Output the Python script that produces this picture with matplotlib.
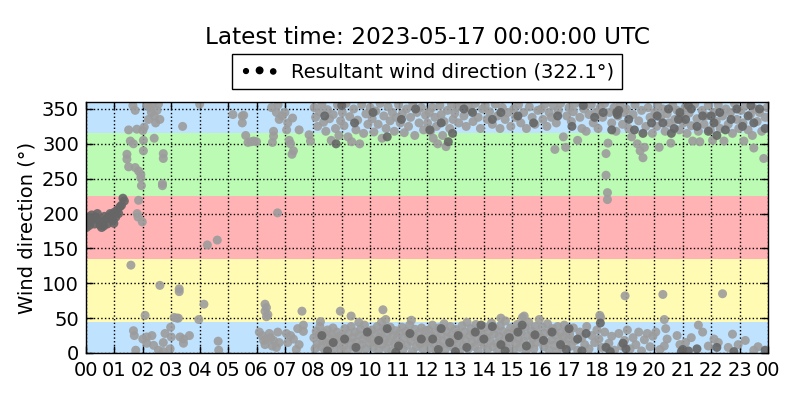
import numpy as np
import matplotlib
matplotlib.use('Agg')
from matplotlib import pyplot as plt
from matplotlib.legend_handler import HandlerPathCollection
from matplotlib.collections import PathCollection

title = 'Latest time: 2023-05-17 00:00:00 UTC'
legend_label = 'Resultant wind direction (322.1\u00b0)'
tick_hours = list(range(25))
tick_labels = ['%02d' % (h % 24) for h in tick_hours]

# direction sectors (deg) and their background colours
sectors = [(0, 45), (45, 135), (135, 225), (225, 315), (315, 360)]
sector_colors = ['#bfe3ff', '#fffbb3', '#ffb3b4', '#bbfbb3', '#bfe3ff']

# (hour, direction) pairs
night_dark = [
    (0.0, 190), (0.05, 185), (0.1, 195), (0.15, 188), (0.2, 198), (0.25, 192),
    (0.3, 185), (0.35, 195), (0.4, 200), (0.45, 190), (0.5, 183), (0.55, 180),
    (0.6, 188), (0.65, 196), (0.7, 192), (0.75, 185), (0.8, 195), (0.85, 200),
    (0.9, 198), (0.95, 190), (1.0, 202), (1.05, 195), (1.1, 205), (1.15, 200),
    (1.2, 210), (1.25, 212), (1.3, 222), (1.35, 218), (0.02, 180), (0.12, 183),
    (0.62, 182), (0.98, 186),
]
night_light = [
    (1.85, 219), (1.8, 200), (1.83, 195), (1.98, 188),
    (1.65, 355), (1.73, 348), (1.5, 320), (1.79, 321), (2.0, 319), (2.05, 324),
    (1.56, 304), (1.67, 300), (2.02, 305), (2.02, 290), (1.44, 285), (1.44, 278),
    (1.5, 267), (1.73, 266), (1.85, 261), (1.93, 256), (1.93, 251), (1.95, 240),
    (2.15, 355), (2.25, 352), (2.3, 345), (2.4, 340), (2.45, 330), (2.5, 348),
    (2.6, 335), (2.2, 335), (2.35, 357), (2.55, 357), (2.4, 308), (2.72, 286),
    (2.72, 279), (2.69, 243), (2.69, 240), (3.4, 325), (4.0, 357),
    (1.58, 126), (2.6, 97), (3.28, 92), (3.28, 88), (2.08, 54), (3.1, 51),
    (3.2, 50), (3.25, 50), (3.97, 48),
    (1.67, 32), (1.7, 25), (1.75, 4), (2.0, 20), (2.14, 23), (2.14, 14),
    (2.32, 25), (2.38, 11), (2.55, 4), (2.72, 2), (2.78, 28), (2.98, 37),
    (3.0, 23), (2.96, 6), (3.31, 23), (3.43, 20), (3.43, 14), (3.64, 25),
    (2.72, 15),
    (4.15, 70), (4.27, 155), (4.62, 162), (4.65, 17), (4.67, 4),
    (5.17, 342), (5.5, 340), (5.5, 330), (5.55, 341), (5.62, 312), (5.7, 302),
    (5.8, 303), (5.9, 304), (6.0, 303), (6.53, 352), (6.6, 318), (6.6, 311),
    (6.56, 302), (6.7, 345), (6.8, 335), (6.9, 340), (7.0, 345), (6.76, 356),
    (7.06, 320), (7.1, 330), (7.15, 305), (7.2, 300), (7.25, 285), (7.3, 290),
    (7.27, 337), (7.5, 320), (7.85, 313), (7.9, 304), (6.74, 201),
    (6.3, 70), (6.35, 65), (6.3, 60), (6.35, 52), (6.4, 55), (7.6, 60),
    (6.1, 30), (6.2, 25), (6.25, 18), (6.3, 12), (6.35, 20), (6.45, 28),
    (6.5, 22), (6.55, 10), (6.6, 18), (6.7, 8), (6.75, 30), (6.8, 15),
    (7.05, 28), (7.1, 15), (7.2, 25), (7.3, 20), (7.4, 5), (7.45, 35),
    (7.5, 12), (7.65, 40), (7.65, 31),
]
morning_light = [
    (8.02, 22), (8.06, 6), (8.1, 31), (8.14, 13), (8.19, 26), (8.23, 38),
    (8.28, 9), (8.33, 18), (8.37, 29), (8.41, 3), (8.46, 15), (8.5, 33),
    (8.55, 22), (8.6, 11), (8.64, 27), (8.69, 36), (8.73, 6), (8.78, 19),
    (8.83, 30), (8.87, 14), (8.92, 24), (8.97, 4), (9.02, 25), (9.06, 10),
    (9.11, 35), (9.15, 18), (9.2, 4), (9.24, 28), (9.29, 15), (9.33, 38),
    (9.38, 22), (9.43, 8), (9.47, 30), (9.52, 16), (9.57, 2), (9.61, 26),
    (9.66, 34), (9.7, 12), (9.75, 20), (9.8, 40), (9.84, 6), (9.89, 24),
    (9.94, 31), (9.98, 14), (10.02, 20), (10.07, 33), (10.11, 8), (10.16, 27),
    (10.2, 15), (10.25, 38), (10.3, 4), (10.34, 23), (10.39, 30), (10.43, 12),
    (10.48, 35), (10.53, 19), (10.57, 7), (10.62, 28), (10.66, 16), (10.71, 37),
    (10.76, 3), (10.8, 25), (10.85, 13), (10.89, 32), (10.94, 21), (10.98, 9),
    (11.03, 29), (11.07, 14), (11.12, 37), (11.16, 5), (11.21, 22), (11.26, 31),
    (11.3, 11), (11.35, 26), (11.39, 40), (11.44, 17), (11.49, 2), (11.53, 24),
    (11.58, 34), (11.62, 9), (11.67, 20), (11.72, 29), (11.76, 13), (11.81, 36),
    (11.85, 6), (11.9, 23), (11.95, 32), (11.99, 16),
    (8.25, 45), (9.6, 44), (10.55, 48), (11.45, 47),
    (8.95, 60), (9.33, 53), (10.45, 62), (10.4, 44),
    (8.03, 352), (8.08, 338), (8.15, 325), (8.22, 346), (8.3, 357), (8.36, 331),
    (8.44, 318), (8.5, 349), (8.57, 336), (8.63, 305), (8.7, 342), (8.78, 322),
    (8.85, 356), (8.9, 312), (8.96, 333), (9.02, 345), (9.08, 326), (9.15, 358),
    (9.22, 310), (9.28, 339), (9.35, 303), (9.42, 350), (9.5, 320), (9.56, 334),
    (9.63, 300), (9.7, 356), (9.77, 315), (9.85, 343), (9.92, 328), (10.0, 352),
    (10.07, 336), (10.13, 317), (10.2, 347), (10.28, 328), (10.35, 358),
    (10.42, 308), (10.48, 340), (10.56, 322), (10.63, 353), (10.7, 333),
    (10.78, 345), (10.85, 318), (10.92, 338), (11.0, 356), (11.06, 330),
    (11.13, 343), (11.2, 316), (11.28, 350), (11.35, 325), (11.42, 338),
    (11.5, 357), (11.57, 312), (11.65, 345), (11.72, 330), (11.8, 352),
    (11.88, 320), (11.95, 341),
]
morning_dark = [
    (8.3, 25), (8.7, 15), (9.1, 20), (9.5, 8), (9.9, 30), (10.3, 18),
    (10.6, 35), (11.0, 10), (11.4, 28), (11.8, 20), (8.5, 3), (10.9, 1),
    (8.4, 340), (9.0, 355), (9.45, 330), (10.1, 345), (10.6, 310), (11.1, 335),
    (11.6, 350), (8.8, 300),
]
midday_light = [
    (12.02, 18), (12.06, 33), (12.1, 7), (12.15, 25), (12.19, 40), (12.24, 13),
    (12.28, 29), (12.33, 3), (12.37, 21), (12.42, 36), (12.46, 10), (12.51, 27),
    (12.55, 17), (12.6, 42), (12.64, 5), (12.69, 31), (12.73, 22), (12.78, 12),
    (12.82, 38), (12.87, 26), (12.91, 8), (12.96, 19), (13.0, 34), (13.05, 14),
    (13.09, 28), (13.14, 2), (13.18, 23), (13.23, 39), (13.27, 11), (13.32, 30),
    (13.36, 18), (13.41, 44), (13.45, 6), (13.5, 25), (13.54, 35), (13.59, 15),
    (13.63, 28), (13.68, 9), (13.72, 41), (13.77, 20), (13.81, 3), (13.86, 32),
    (13.9, 16), (13.95, 26), (14.0, 12), (14.04, 37), (14.09, 22), (14.13, 5),
    (14.18, 30), (14.22, 17), (14.27, 43), (14.31, 9), (14.36, 27), (14.4, 35),
    (14.45, 14), (14.49, 2), (14.54, 24), (14.58, 39), (14.63, 11), (14.67, 31),
    (14.72, 19), (14.76, 46), (14.81, 7), (14.85, 28), (14.9, 16), (14.94, 36),
    (15.0, 23), (15.04, 4), (15.09, 33), (15.13, 13), (15.18, 41), (15.22, 20),
    (15.27, 8), (15.31, 29), (15.36, 51), (15.4, 17), (15.45, 37), (15.49, 3),
    (15.54, 25), (15.58, 44), (15.63, 12), (15.67, 32), (15.72, 21), (15.76, 6),
    (15.81, 38), (15.85, 15), (15.9, 27), (15.95, 48), (14.6, 50), (15.42, 53),
    (12.02, 330), (12.08, 345), (12.12, 318), (12.18, 352), (12.22, 308),
    (12.28, 338), (12.33, 325), (12.38, 300), (12.45, 355), (12.5, 342),
    (12.55, 312), (12.6, 332), (12.67, 296), (12.72, 348), (12.8, 322),
    (12.86, 357), (12.92, 335), (12.98, 344), (13.05, 352), (13.12, 330),
    (13.2, 358), (13.3, 340), (13.38, 325), (13.45, 355), (13.55, 348),
    (13.62, 332), (13.7, 358), (13.8, 338), (13.88, 322), (13.95, 350),
    (14.05, 355), (14.12, 335), (14.2, 346), (14.3, 328), (14.4, 357),
    (14.48, 340), (14.57, 322), (14.65, 352), (14.75, 335), (14.85, 345),
    (14.95, 325), (15.05, 350), (15.12, 338), (15.22, 356), (15.3, 330),
    (15.4, 345), (15.5, 322), (15.6, 353), (15.7, 338), (15.8, 328), (15.9, 348),
]
midday_dark = [
    (12.2, 20), (12.5, 35), (12.8, 15), (13.1, 25), (13.4, 8), (13.7, 30),
    (14.0, 20), (14.3, 38), (14.6, 12), (14.9, 22), (15.2, 30), (15.5, 10),
    (15.8, 26), (13.0, 2), (14.75, 3), (15.35, 40), (12.4, 5), (13.9, 40),
    (12.1, 320), (12.5, 330), (12.9, 315), (13.3, 350), (14.3, 335),
    (14.6, 345), (15.2, 340), (15.75, 330), (12.75, 303), (13.6, 345),
]
evening_light = [
    (16.02, 22), (16.06, 37), (16.11, 9), (16.15, 28), (16.2, 15), (16.24, 42),
    (16.29, 4), (16.33, 31), (16.38, 19), (16.42, 35), (16.47, 11), (16.51, 26),
    (16.56, 2), (16.6, 38), (16.65, 17), (16.7, 29), (16.74, 8), (16.79, 23),
    (16.83, 40), (16.88, 13), (16.92, 33), (16.97, 20), (17.02, 27), (17.08, 10),
    (17.15, 36), (17.22, 18), (17.3, 4), (17.38, 30), (17.45, 22), (17.55, 12),
    (17.62, 38), (17.7, 6), (17.8, 25), (17.9, 15), (17.98, 33), (18.05, 20),
    (18.15, 8), (18.25, 30), (18.4, 14), (18.5, 24), (18.6, 4), (18.75, 28),
    (18.85, 10), (18.95, 18), (19.05, 33), (19.15, 6), (19.25, 22), (19.35, 12),
    (19.45, 30), (19.55, 3), (19.65, 19), (19.75, 28), (19.85, 9), (19.95, 24),
    (18.08, 54), (18.11, 51), (18.97, 82),
    (16.02, 350), (16.08, 335), (16.15, 357), (16.22, 325), (16.3, 345),
    (16.38, 338), (16.45, 355), (16.5, 292), (16.55, 330), (16.62, 348),
    (16.7, 358), (16.8, 310), (16.88, 295), (16.92, 340), (17.0, 352),
    (17.08, 332), (17.15, 346), (17.22, 358), (17.3, 305), (17.38, 338),
    (17.45, 322), (17.52, 350), (17.6, 318), (17.7, 342), (17.78, 356),
    (17.85, 330), (17.95, 345), (18.02, 322), (18.1, 352), (18.18, 338),
    (18.25, 358), (18.3, 286), (18.3, 255), (18.35, 230), (18.35, 220),
    (18.37, 301), (18.42, 345), (18.5, 330), (18.58, 352), (18.65, 318),
    (18.72, 340), (18.8, 356), (18.88, 328), (18.95, 345), (19.02, 350),
    (19.1, 322), (19.2, 310), (19.25, 342), (19.32, 356), (19.4, 300),
    (19.45, 333), (19.5, 290), (19.55, 348), (19.6, 280), (19.65, 295),
    (19.7, 325), (19.78, 352), (19.85, 338), (19.93, 315),
]
evening_dark = [
    (16.1, 18), (16.4, 30), (16.7, 12), (17.0, 35), (17.3, 20), (17.6, 28),
    (18.3, 8), (18.45, 2), (18.9, 14), (19.0, 6), (16.9, 5), (17.45, 3),
    (18.1, 43), (18.7, 342), (18.68, 345), (18.75, 348), (16.6, 340),
    (17.1, 325), (17.9, 338), (18.5, 320), (19.1, 335), (19.3, 320),
    (19.6, 315), (19.9, 330), (18.2, 345), (17.5, 355),
]
late_light = [
    (20.02, 345), (20.08, 325), (20.12, 356), (20.17, 295), (20.22, 338),
    (20.3, 350), (20.38, 318), (20.45, 343), (20.52, 330), (20.58, 301),
    (20.65, 355), (20.72, 335), (20.8, 348), (20.88, 320), (20.95, 340),
    (21.02, 330), (21.08, 352), (21.15, 315), (21.22, 344), (21.3, 326),
    (21.35, 304), (21.42, 357), (21.5, 336), (21.55, 318), (21.6, 303),
    (21.68, 348), (21.75, 328), (21.82, 340), (21.9, 355), (21.97, 320),
    (22.05, 305), (22.1, 345), (22.18, 332), (22.25, 356), (22.32, 322),
    (22.4, 340), (22.45, 304), (22.52, 350), (22.6, 328), (22.68, 345),
    (22.75, 315), (22.82, 358), (22.9, 335), (22.97, 322), (23.05, 348),
    (23.12, 330), (23.15, 304), (23.22, 355), (23.3, 320), (23.38, 342),
    (23.45, 312), (23.5, 294), (23.55, 350), (23.62, 332), (23.7, 345),
    (23.78, 318), (23.85, 279), (23.9, 338), (23.97, 352),
    (20.35, 10), (20.4, 35), (20.45, 20), (20.8, 25), (20.9, 12), (21.1, 15),
    (21.55, 40), (21.7, 30), (21.9, 10), (22.1, 20), (22.25, 15), (22.75, 27),
    (23.5, 4), (22.6, 8), (20.05, 30), (20.2, 5), (21.3, 22), (22.95, 12),
    (23.2, 18), (23.65, 9), (20.3, 84), (22.4, 85), (20.35, 48),
]
late_dark = [
    (20.1, 340), (20.3, 330), (20.5, 350), (20.7, 322), (20.9, 345),
    (21.1, 335), (21.3, 350), (21.5, 325), (21.7, 340), (21.9, 318),
    (22.1, 330), (22.3, 345), (22.5, 320), (22.7, 335), (22.9, 350),
    (23.1, 325), (23.3, 340), (23.5, 330), (23.7, 350), (23.9, 322),
    (20.6, 315), (21.2, 355), (22.2, 312), (23.4, 355), (20.85, 335),
    (22.0, 340), (21.0, 5), (21.2, 3), (21.5, 6), (22.2, 8), (22.8, 2),
    (23.9, 4), (20.95, 2),
]

light = np.array(night_light + morning_light + midday_light + evening_light + late_light)
dark = np.array(night_dark + morning_dark + midday_dark + evening_dark + late_dark)

plt.rcParams['font.family'] = 'DejaVu Sans'
plt.rcParams['xtick.direction'] = 'in'
plt.rcParams['ytick.direction'] = 'in'

fig = plt.figure(figsize=(8, 4), dpi=100)
ax = fig.add_axes([0.1075, 0.1175, 0.8525, 0.6275])

for (lo, hi), col in zip(sectors, sector_colors):
    ax.axhspan(lo, hi, color=col, lw=0, zorder=0)

ax.scatter(light[:, 0], light[:, 1], s=42, c='#9c9c9c', alpha=0.9,
           edgecolors='none', zorder=3)
ax.scatter(dark[:, 0], dark[:, 1], s=42, c='#666666', alpha=0.9,
           edgecolors='none', zorder=3)
proxy = ax.scatter([np.nan], [np.nan], s=20, c='k', label=legend_label)

ax.set_xlim(0, 24)
ax.set_ylim(0, 360)
ax.set_xticks(tick_hours)
ax.set_xticklabels(tick_labels)
ax.set_yticks(range(0, 360, 50))
ax.tick_params(axis='both', labelsize=14, top=True, right=True, length=5,
               width=1)
ax.tick_params(axis='x', pad=6)
ax.tick_params(axis='y', pad=5)
ax.grid(True, ls=':', color='k', lw=1)
ax.set_axisbelow(True)
for sp in ax.spines.values():
    sp.set_linewidth(1)
    sp.set_zorder(5)

ax.set_ylabel('Wind direction (\u00b0)', fontsize=14)
ax.set_title(title, fontsize=16.7, pad=42)
ax.legend(handles=[proxy], loc='lower center', bbox_to_anchor=(0.5, 1.052),
          borderaxespad=0, fontsize=14, fancybox=False, edgecolor='k',
          framealpha=1, scatterpoints=3, scatteryoffsets=[0.45, 0.5, 0.42],
          handler_map={PathCollection: HandlerPathCollection(sizes=[12, 22, 14])},
          borderpad=0.4, handletextpad=0.6)

fig.savefig('out.png', dpi=100)
